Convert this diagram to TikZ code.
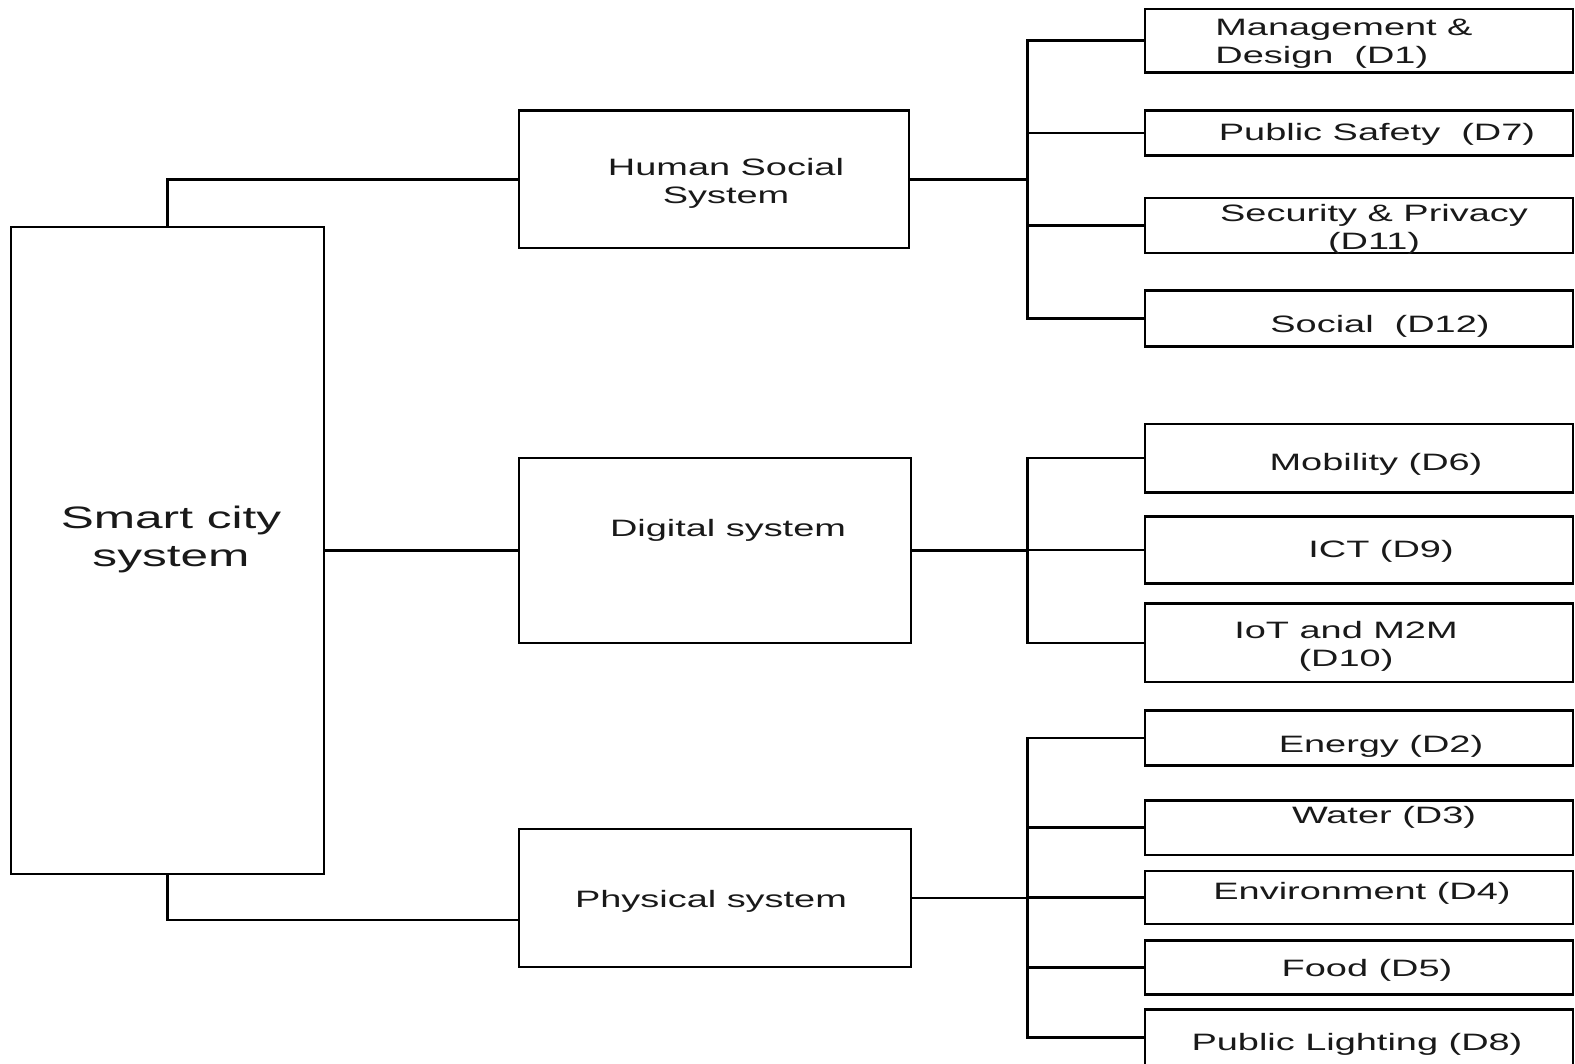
\documentclass[tikz,border=0pt]{standalone}
\usepackage{fontspec}
\setmainfont{Liberation Sans}[FakeStretch=1.6]
\usetikzlibrary{fit}

\begin{document}
\begin{tikzpicture}[x=0.5pt,y=-0.5pt,
  box/.style={draw=black, line width=1.3pt, inner sep=0pt},
  txt/.style={font=\fontsize{11.85}{14}\selectfont, align=center, inner sep=0pt, text=black!90, yshift=-1.5pt},
  bigtxt/.style={font=\fontsize{15.5}{19}\selectfont, align=center, inner sep=0pt, text=black!90, yshift=-2pt},
  wire/.style={draw=black, line width=1.3pt, line cap=rect}]
\useasboundingbox (0,0) rectangle (1575,1064);
\clip (0,0) rectangle (1575,1064);

% root and the three subsystems
\node[box, fit={(11,227) (324,874)}] (city) {};
\node[box, fit={(519,110.5) (909,248)}] (hss) {};
\node[box, fit={(519,458) (911,643)}] (dig) {};
\node[box, fit={(519,829) (911,967)}] (phy) {};

\node[bigtxt] (city-t) at (171,535) {Smart city\\system};
\node[txt] (hss-t) at (726,180) {Human Social\\System};
\node[txt] (dig-t) at (728,527) {Digital system};
\node[txt] (phy-t) at (711,898) {Physical system};

% domain boxes
\foreach \n/\ya/\yb in {d1/9/72.3, d7/110.5/155.7, d11/197.9/253.1, d12/290.3/346.6,
  d6/423.9/492.2, d9/516.3/583.6, d10/603.7/682,
  d2/710.2/765.4, d3/800.6/854.8, d4/870.9/924.1, d5/940.2/994.5, d8/1009.5/1066}
  \node[box, fit={(1145,\ya) (1573,\yb)}] (\n) {};

\node[txt, anchor=west, align=left] (d1-t) at (1215,40.5) {Management \&\\Design\ \ (D1)};
\node[txt] (d7-t) at (1377,131.6) {Public Safety\ \ (D7)};
\node[txt] (d11-t) at (1374,226) {Security \& Privacy\\(D11)};
\node[txt] (d12-t) at (1380,323.4) {Social\ \ (D12)};
\node[txt] (d6-t) at (1376,461) {Mobility (D6)};
\node[txt] (d9-t) at (1381,548.5) {ICT (D9)};
\node[txt] (d10-t) at (1346,643) {IoT and M2M\\(D10)};
\node[txt] (d2-t) at (1381,743) {Energy (D2)};
\node[txt] (d3-t) at (1384,814.6) {Water (D3)};
\node[txt] (d4-t) at (1362,890) {Environment (D4)};
\node[txt] (d5-t) at (1367,967.3) {Food (D5)};
\node[txt] (d8-t) at (1357,1041.7) {Public Lighting (D8)};

% root to subsystems
\coordinate (phyin) at (519,920);
\draw[wire] (city.north) |- (hss.west);
\draw[wire] (city.east) -- (dig.west);
\draw[wire] (city.south) |- (phyin);

% subsystems to their domains
\coordinate (bus) at (1027.6,0);
\draw[wire] (hss.east) -- (hss.east -| bus);
\draw[wire] (d1.west -| bus) -- (d12.west -| bus);
\foreach \c in {d1,d7,d11,d12} \draw[wire] (\c.west -| bus) -- (\c.west);

\draw[wire] (dig.east) -- (dig.east -| bus);
\draw[wire] (d6.west -| bus) -- (d10.west -| bus);
\foreach \c in {d6,d9,d10} \draw[wire] (\c.west -| bus) -- (\c.west);

\draw[wire] (phy.east) -- (phy.east -| bus);
\draw[wire] (d2.west -| bus) -- (d8.west -| bus);
\foreach \c in {d2,d3,d4,d5,d8} \draw[wire] (\c.west -| bus) -- (\c.west);
\end{tikzpicture}
\end{document}
